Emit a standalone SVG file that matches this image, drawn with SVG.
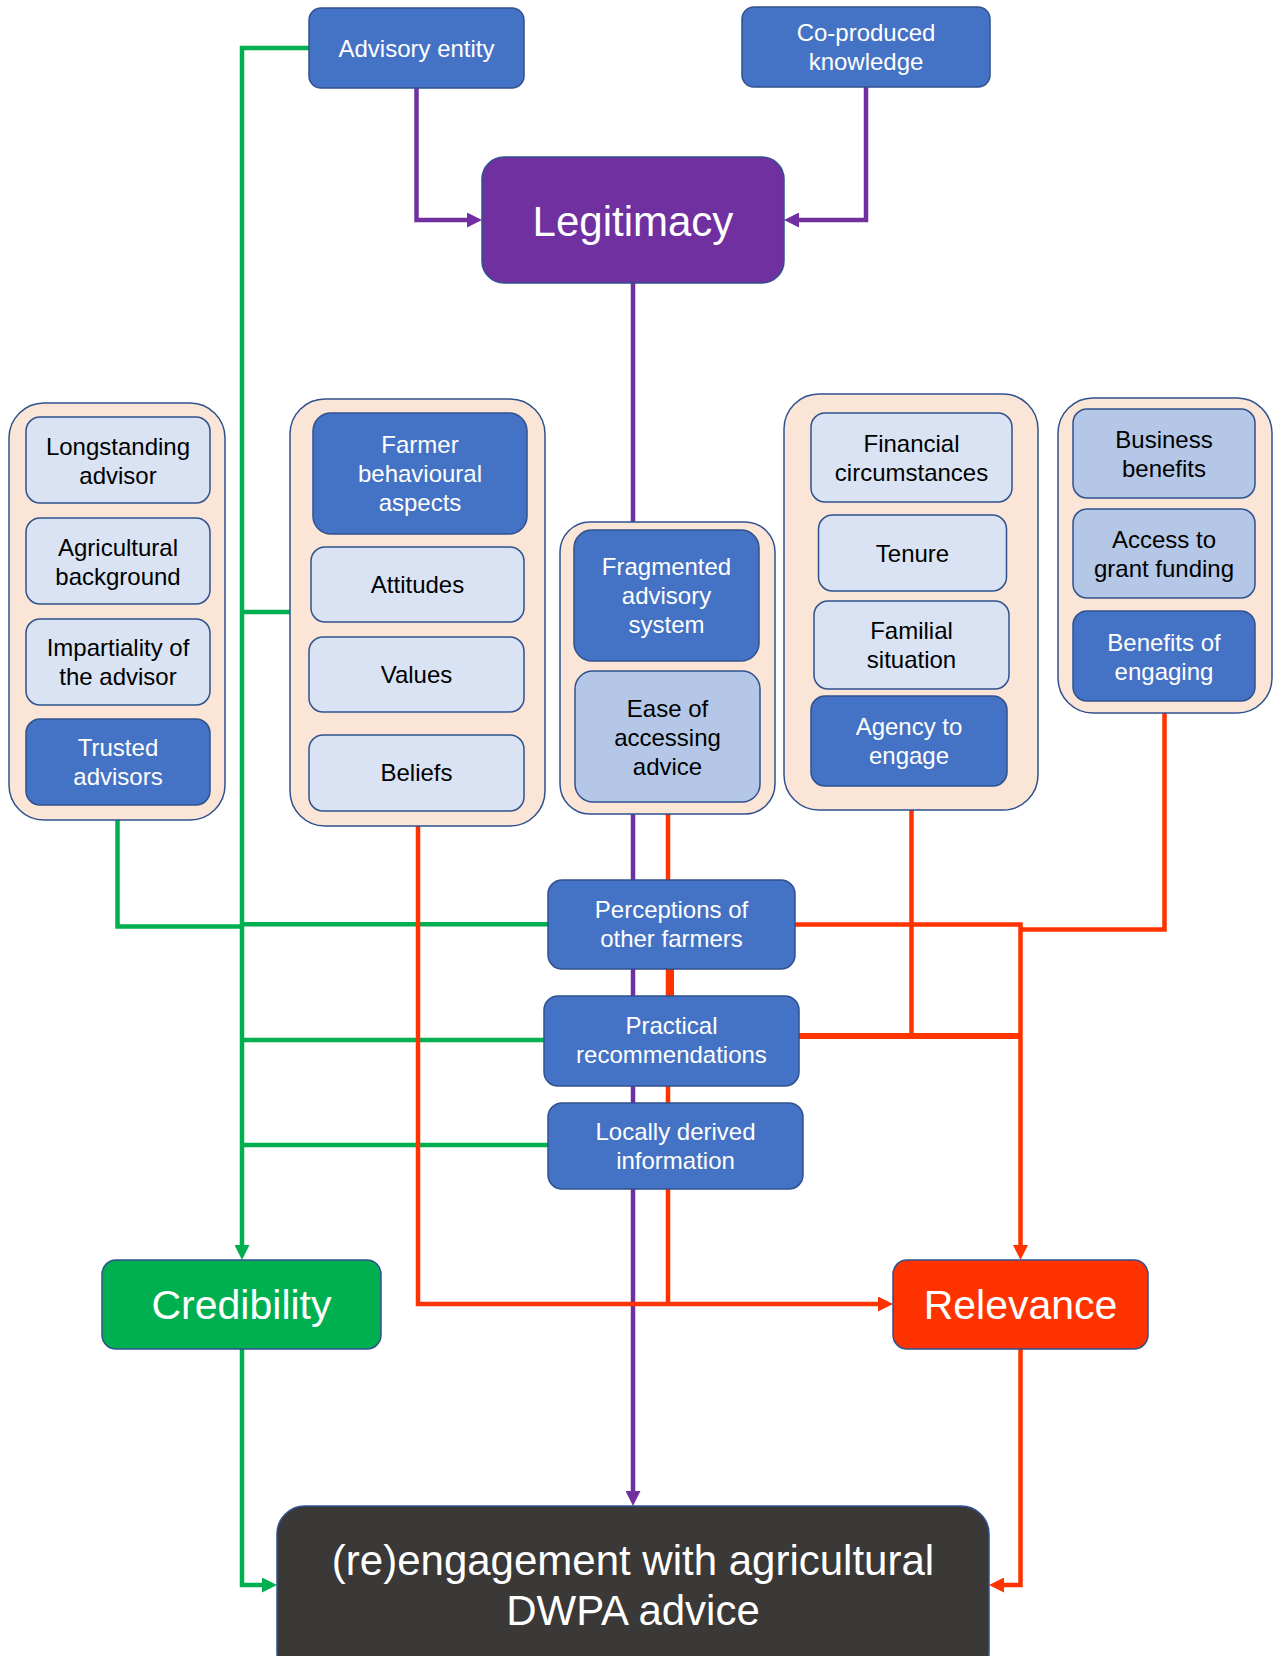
<svg xmlns="http://www.w3.org/2000/svg" width="1278" height="1656" viewBox="0 0 1278 1656">
<style>
text{font-family:"Liberation Sans",Arial,sans-serif;text-anchor:middle}
.s{font-size:24px}
.w{fill:#ffffff}
.k{fill:#000000}
.dark{fill:#4472c4;stroke:#2f528f;stroke-width:1.5}
.light{fill:#dae3f3;stroke:#2f528f;stroke-width:1.5}
.med{fill:#b4c7e7;stroke:#2f528f;stroke-width:1.5}
.grp{fill:#fbe5d6;stroke:#2f528f;stroke-width:1.5}
.g{fill:none;stroke:#00b050;stroke-width:4.5}
.p{fill:none;stroke:#7030a0;stroke-width:4.5}
.r{fill:none;stroke:#ff3300;stroke-width:4.5}
</style>
<defs>
<marker id="ag" markerUnits="userSpaceOnUse" markerWidth="15" markerHeight="15" refX="7" refY="7.5" orient="auto"><path d="M0,0 L15,7.5 L0,15 z" fill="#00b050"/></marker>
<marker id="ap" markerUnits="userSpaceOnUse" markerWidth="15" markerHeight="15" refX="7" refY="7.5" orient="auto"><path d="M0,0 L15,7.5 L0,15 z" fill="#7030a0"/></marker>
<marker id="ar" markerUnits="userSpaceOnUse" markerWidth="15" markerHeight="15" refX="7" refY="7.5" orient="auto"><path d="M0,0 L15,7.5 L0,15 z" fill="#ff3300"/></marker>
</defs>
<rect width="1278" height="1656" fill="#ffffff"/>
<g id="connectors">
<path class="p" d="M416.5,88 V220 H474" marker-end="url(#ap)"/>
<path class="p" d="M866,87 V220 H792" marker-end="url(#ap)"/>
<path class="p" d="M633,283 V1498" marker-end="url(#ap)"/>
<path class="g" d="M309,48 H242 V1252" marker-end="url(#ag)"/>
<path class="g" d="M117.5,820 V926.5 H242"/>
<path class="g" d="M548,924.3 H242"/>
<path class="g" d="M290,612 H242"/>
<path class="g" d="M544,1040 H242"/>
<path class="g" d="M548,1145 H242"/>
<path class="g" d="M242,1349 V1585 H269" marker-end="url(#ag)"/>
<path class="r" d="M418,826 V1304 H885" marker-end="url(#ar)"/>
<path class="r" d="M668,814 V1304"/>
<path class="r" d="M670,969 V996" style="stroke-width:8"/>
<path class="r" d="M911.5,810 V1036 H1020.5"/>
<path class="r" d="M1164.5,713 V929.5 H1020.5"/>
<path class="r" d="M795,924.5 H1020.5 V1252" marker-end="url(#ar)"/>
<path class="r" d="M799,1036 H1020.5" style="stroke-width:6"/>
<path class="r" d="M1020.5,1349 V1585 H997" marker-end="url(#ar)"/>
</g>
<g id="advisory-entity"><rect class="dark" x="309" y="8" width="215" height="80" rx="12"/><text class="s w" x="416.5" y="57">Advisory entity</text></g>
<g id="co-produced-knowledge"><rect class="dark" x="742" y="7" width="248" height="80" rx="12"/><text class="s w" x="866" y="41">Co-produced</text><text class="s w" x="866" y="70">knowledge</text></g>
<g id="legitimacy"><rect x="482" y="157" width="302" height="126" rx="22" fill="#7030a0" stroke="#2f528f" stroke-width="1.5"/><text class="w" x="633" y="236" style="font-size:42px">Legitimacy</text></g>
<g id="group-credibility-factors">
<rect class="grp" x="9" y="403" width="216" height="417" rx="35"/>
<g id="longstanding-advisor"><rect class="light" x="26" y="417" width="184" height="86" rx="14"/><text class="s k" x="118" y="455">Longstanding</text><text class="s k" x="118" y="484">advisor</text></g>
<g id="agricultural-background"><rect class="light" x="26" y="518" width="184" height="86" rx="14"/><text class="s k" x="118" y="555.5">Agricultural</text><text class="s k" x="118" y="584.5">background</text></g>
<g id="impartiality"><rect class="light" x="26" y="619" width="184" height="86" rx="14"/><text class="s k" x="118" y="656">Impartiality of</text><text class="s k" x="118" y="685">the advisor</text></g>
<g id="trusted-advisors"><rect class="dark" x="26" y="719" width="184" height="86" rx="14"/><text class="s w" x="118" y="755.5">Trusted</text><text class="s w" x="118" y="784.5">advisors</text></g>
</g>
<g id="group-farmer-behaviour">
<rect class="grp" x="290" y="399" width="255" height="427" rx="35"/>
<g id="farmer-behavioural-aspects"><rect class="dark" x="313" y="413" width="214" height="121" rx="18"/><text class="s w" x="420" y="453">Farmer</text><text class="s w" x="420" y="482">behavioural</text><text class="s w" x="420" y="511">aspects</text></g>
<g id="attitudes"><rect class="light" x="311" y="547" width="213" height="75" rx="14"/><text class="s k" x="417.5" y="593">Attitudes</text></g>
<g id="values"><rect class="light" x="309" y="637" width="215" height="75" rx="14"/><text class="s k" x="416.5" y="683">Values</text></g>
<g id="beliefs"><rect class="light" x="309" y="735" width="215" height="76" rx="14"/><text class="s k" x="416.5" y="781">Beliefs</text></g>
</g>
<g id="group-advisory-system">
<rect class="grp" x="560" y="522" width="215" height="292" rx="30"/>
<g id="fragmented-advisory-system"><rect class="dark" x="574" y="530" width="185" height="131" rx="18"/><text class="s w" x="666.5" y="575">Fragmented</text><text class="s w" x="666.5" y="604">advisory</text><text class="s w" x="666.5" y="633">system</text></g>
<g id="ease-of-accessing-advice"><rect class="med" x="575" y="671" width="185" height="131" rx="18"/><text class="s k" x="667.5" y="716.5">Ease of</text><text class="s k" x="667.5" y="745.5">accessing</text><text class="s k" x="667.5" y="774.5">advice</text></g>
</g>
<g id="group-farm-circumstances">
<rect class="grp" x="784" y="394" width="254" height="416" rx="35"/>
<g id="financial-circumstances"><rect class="light" x="811" y="413" width="201" height="89" rx="14"/><text class="s k" x="911.5" y="451.5">Financial</text><text class="s k" x="911.5" y="480.5">circumstances</text></g>
<g id="tenure"><rect class="light" x="818.5" y="515" width="188" height="76" rx="14"/><text class="s k" x="912.5" y="561.5">Tenure</text></g>
<g id="familial-situation"><rect class="light" x="814" y="601" width="195" height="88" rx="14"/><text class="s k" x="911.5" y="639">Familial</text><text class="s k" x="911.5" y="668">situation</text></g>
<g id="agency-to-engage"><rect class="dark" x="811" y="696" width="196" height="90" rx="14"/><text class="s w" x="909" y="735">Agency to</text><text class="s w" x="909" y="764">engage</text></g>
</g>
<g id="group-benefits">
<rect class="grp" x="1058" y="398" width="214" height="315" rx="35"/>
<g id="business-benefits"><rect class="med" x="1073" y="409" width="182" height="89" rx="14"/><text class="s k" x="1164" y="447.5">Business</text><text class="s k" x="1164" y="476.5">benefits</text></g>
<g id="access-to-grant-funding"><rect class="med" x="1073" y="509" width="182" height="89" rx="14"/><text class="s k" x="1164" y="547.5">Access to</text><text class="s k" x="1164" y="576.5">grant funding</text></g>
<g id="benefits-of-engaging"><rect class="dark" x="1073" y="611" width="182" height="90" rx="14"/><text class="s w" x="1164" y="650.5">Benefits of</text><text class="s w" x="1164" y="679.5">engaging</text></g>
</g>
<g id="perceptions-of-other-farmers"><rect class="dark" x="548" y="880" width="247" height="89" rx="14"/><text class="s w" x="671.5" y="918">Perceptions of</text><text class="s w" x="671.5" y="947">other farmers</text></g>
<g id="practical-recommendations"><rect class="dark" x="544" y="996" width="255" height="90" rx="14"/><text class="s w" x="671.5" y="1034">Practical</text><text class="s w" x="671.5" y="1063">recommendations</text></g>
<g id="locally-derived-information"><rect class="dark" x="548" y="1103" width="255" height="86" rx="14"/><text class="s w" x="675.5" y="1140">Locally derived</text><text class="s w" x="675.5" y="1169">information</text></g>
<g id="credibility"><rect x="102" y="1260" width="279" height="89" rx="14" fill="#00b050" stroke="#2f528f" stroke-width="1.5"/><text class="w" x="241.5" y="1319" style="font-size:41px">Credibility</text></g>
<g id="relevance"><rect x="893" y="1260" width="255" height="89" rx="14" fill="#ff3300" stroke="#2f528f" stroke-width="1.5"/><text class="w" x="1020.5" y="1319" style="font-size:41px">Relevance</text></g>
<g id="engagement"><rect x="277" y="1506" width="712" height="175" rx="28" fill="#3b3838" stroke="#2f528f" stroke-width="1.5"/><text class="w" x="633" y="1575" style="font-size:42px">(re)engagement with agricultural</text><text class="w" x="633" y="1625" style="font-size:42px">DWPA advice</text></g>
</svg>
